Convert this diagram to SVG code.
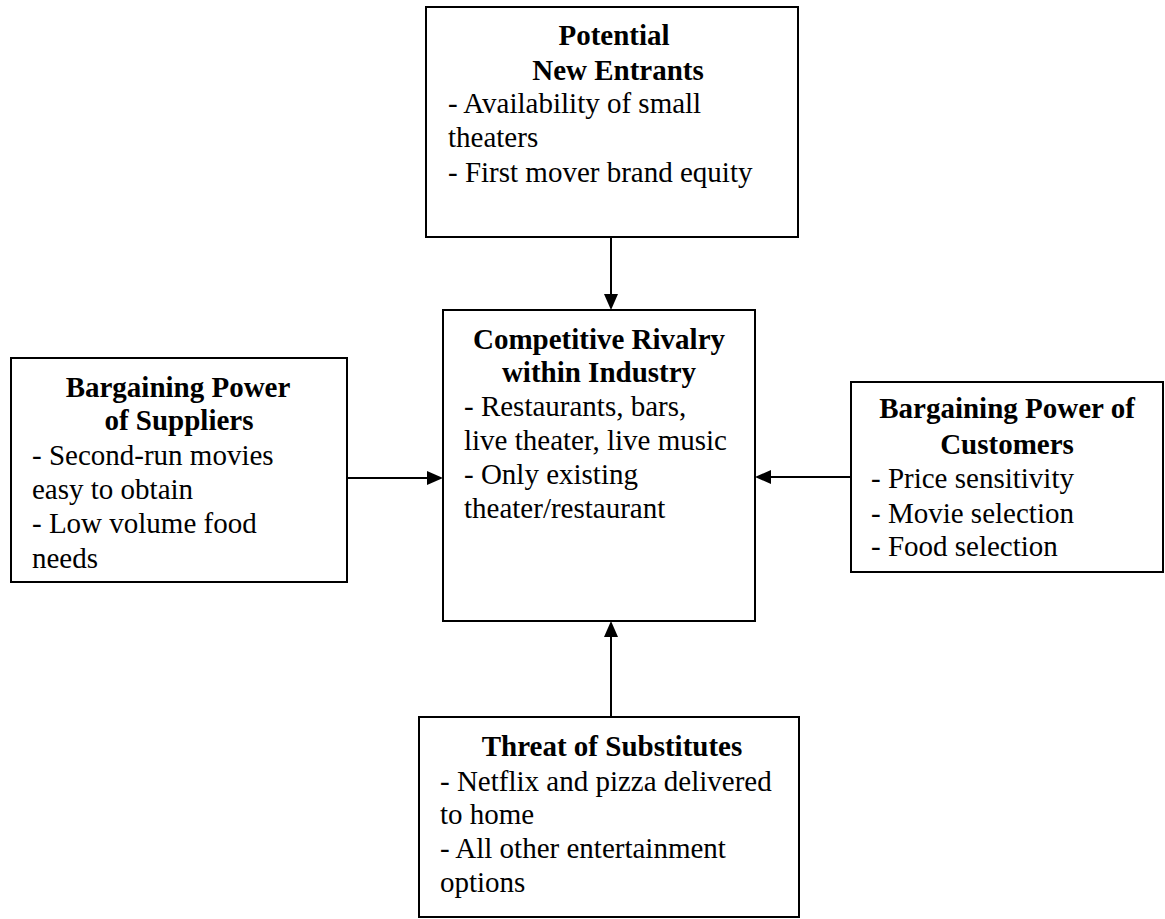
<svg xmlns="http://www.w3.org/2000/svg" width="1165" height="919" viewBox="0 0 1165 919">
<style>
.box{fill:#fff;stroke:#000;stroke-width:2}
.t{font-weight:bold;text-anchor:middle}
.ln{stroke:#000;stroke-width:2;fill:none}
.ah{fill:#000}
</style>
<rect width="1165" height="919" fill="#fff"/>
<g id="connectors">
<line class="ln" x1="611" y1="237" x2="611" y2="296"/>
<path class="ah" d="M604,294 L618,294 L611,310 Z"/>
<line class="ln" x1="347" y1="478" x2="429" y2="478"/>
<path class="ah" d="M427,471 L427,485 L443,478 Z"/>
<line class="ln" x1="851" y1="477" x2="769" y2="477"/>
<path class="ah" d="M771,470 L771,484 L755,477 Z"/>
<line class="ln" x1="611" y1="717" x2="611" y2="635"/>
<path class="ah" d="M604,637 L618,637 L611,621 Z"/>
</g>
<g font-family="Liberation Serif, Times New Roman, serif" font-size="29" fill="#000">
<g id="new-entrants">
<rect class="box" x="426" y="7" width="372" height="230"/>
<text class="t" x="614" y="45">Potential</text>
<text class="t" x="618" y="80">New Entrants</text>
<text x="448" y="113">- Availability of small</text>
<text x="448" y="147">theaters</text>
<text x="448" y="182">- First mover brand equity</text>
</g>
<g id="rivalry">
<rect class="box" x="443" y="310" width="312" height="311"/>
<text class="t" x="599" y="349">Competitive Rivalry</text>
<text class="t" x="599" y="382">within Industry</text>
<text x="464" y="416">- Restaurants, bars,</text>
<text x="464" y="450">live theater, live music</text>
<text x="464" y="484">- Only existing</text>
<text x="464" y="518">theater/restaurant</text>
</g>
<g id="suppliers">
<rect class="box" x="11" y="358" width="336" height="224"/>
<text class="t" x="178" y="397">Bargaining Power</text>
<text class="t" x="179" y="430">of Suppliers</text>
<text x="32" y="465">- Second-run movies</text>
<text x="32" y="499">easy to obtain</text>
<text x="32" y="533">- Low volume food</text>
<text x="32" y="568">needs</text>
</g>
<g id="customers">
<rect class="box" x="851" y="382" width="312" height="190"/>
<text class="t" x="1007" y="418">Bargaining Power of</text>
<text class="t" x="1007" y="454">Customers</text>
<text x="871" y="488">- Price sensitivity</text>
<text x="871" y="523">- Movie selection</text>
<text x="871" y="556">- Food selection</text>
</g>
<g id="substitutes">
<rect class="box" x="419" y="717" width="380" height="200"/>
<text class="t" x="612" y="756">Threat of Substitutes</text>
<text x="440" y="791">- Netflix and pizza delivered</text>
<text x="440" y="824">to home</text>
<text x="440" y="858">- All other entertainment</text>
<text x="440" y="892">options</text>
</g>
</g>
</svg>
